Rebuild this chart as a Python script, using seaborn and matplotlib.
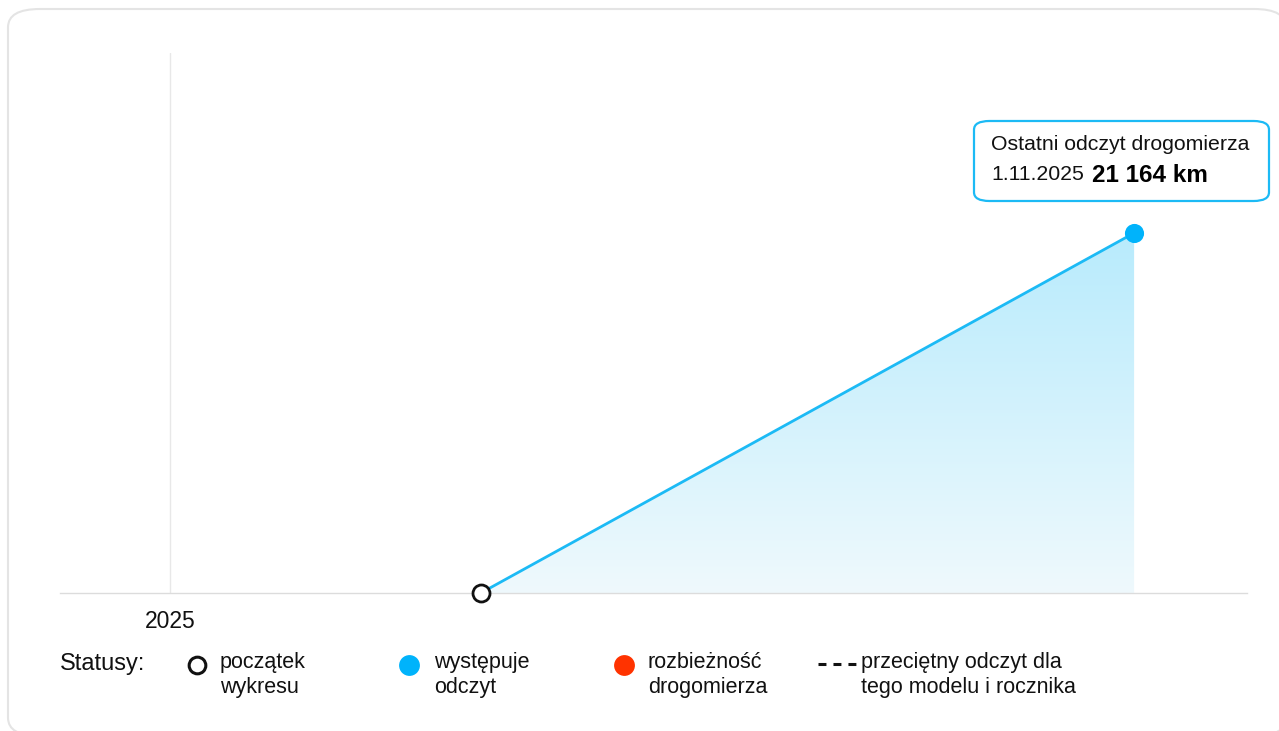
import matplotlib
matplotlib.use("Agg")
import matplotlib.pyplot as plt
import matplotlib.dates as mdates
from matplotlib.patches import FancyBboxPatch
from matplotlib.lines import Line2D
import seaborn as sns
import pandas as pd
import numpy as np

# data
read_dates = ["2025-04-09", "2025-11-01"]
read_km = [0, 21164]
point_status = ["start", "reading"]
tick_years = [2025]
legend_labels = ["początek\nwykresu", "występuje\nodczyt", "rozbieżność\ndrogomierza",
                 "przeciętny odczyt dla\ntego modelu i rocznika"]

BLUE = "#1cbaf5"
DOT = "#00b3fb"
RED = "#ff3300"

sns.set_theme(style="white")
plt.rcParams["font.family"] = ["Liberation Sans", "DejaVu Sans"]

df = pd.DataFrame({"date": pd.to_datetime(read_dates), "km": read_km, "status": point_status})

W, H = 1279, 731
fig = plt.figure(figsize=(W / 100, H / 100), dpi=100)

def fx(px):
    return px / W

def fy(py):
    return 1 - py / H

# card
card = FancyBboxPatch((fx(8), fy(736)), fx(1286) - fx(8), fy(9) - fy(736),
                      boxstyle="round,pad=0,rounding_size=0.025", transform=fig.transFigure,
                      facecolor="white", edgecolor="#e4e4e4", linewidth=1.5, zorder=-5)
fig.patches.append(card)

ax = fig.add_axes([fx(60), fy(593), fx(1247) - fx(60), fy(53) - fy(593)])
ax.set_facecolor("none")

# gradient area under the line
xnum = mdates.date2num(df["date"])
poly = ax.fill_between(xnum, 0, df["km"], color="none", linewidth=0)
grad = np.linspace(0, 1, 256).reshape(-1, 1)
cmap = matplotlib.colors.LinearSegmentedColormap.from_list("g", ["#eff9fd", "#b8ebfc"])
im = ax.imshow(grad, cmap=cmap, aspect="auto", origin="lower",
               extent=[xnum[0], xnum[-1], 0, max(read_km)], zorder=1)
im.set_clip_path(poly.get_paths()[0], transform=ax.transData)

sns.lineplot(data=df, x="date", y="km", color=BLUE, linewidth=2, ax=ax, zorder=3)
start = df[df["status"] == "start"]
reads = df[df["status"] == "reading"]
sns.scatterplot(data=start, x="date", y="km", s=150, facecolor="white",
                edgecolor="#111111", linewidth=2, ax=ax, zorder=4, clip_on=False)
sns.scatterplot(data=reads, x="date", y="km", s=190, color=DOT, linewidth=0, ax=ax, zorder=4)

x0 = pd.Timestamp("2025-01-01")
ax.set_xlim(x0 - pd.Timedelta(days=34.7), x0 + pd.Timedelta(days=339.6))
ax.set_ylim(0, max(read_km) * 1.5)
ax.set_xticks([pd.Timestamp(f"{y}-01-01") for y in tick_years])
ax.set_xticklabels([str(y) for y in tick_years], fontsize=16.5, color="#111111")
ax.set_yticks([])
ax.tick_params(axis="x", length=0, pad=12)
ax.set_xlabel("")
ax.set_ylabel("")
for s in ["top", "right", "left"]:
    ax.spines[s].set_visible(False)
ax.spines["bottom"].set_color("#dcdcdc")
ax.spines["bottom"].set_linewidth(1)
ax.xaxis.grid(True, color="#e8e8e8", linewidth=1)
ax.yaxis.grid(False)

# tooltip
tip = FancyBboxPatch((fx(974), fy(201)), fx(1269) - fx(974), fy(121) - fy(201),
                     boxstyle="round,pad=0,rounding_size=0.012", transform=fig.transFigure,
                     facecolor="white", edgecolor=BLUE, linewidth=1.6, zorder=5)
fig.patches.append(tip)
fig.text(fx(991), fy(144), "Ostatni odczyt drogomierza", fontsize=15.3, va="center",
         color="#111111", zorder=6)
fig.text(fx(991), fy(175), "1.11.2025", fontsize=15.3, va="center", color="#111111", zorder=6)
fig.text(fx(1092), fy(175), "21 164 km", fontsize=17.5, fontweight="bold", va="center",
         color="#000000", zorder=6)

# legend row
fig.text(fx(60), fy(664), "Statusy:", fontsize=17, va="center", color="#111111")
fig.lines.append(Line2D([fx(197)], [fy(665)], marker="o", markersize=12, markerfacecolor="white",
                        markeredgecolor="#111111", markeredgewidth=2.2, transform=fig.transFigure))
fig.lines.append(Line2D([fx(409)], [fy(665)], marker="o", markersize=15, markerfacecolor=DOT,
                        markeredgewidth=0, transform=fig.transFigure))
fig.lines.append(Line2D([fx(624)], [fy(665)], marker="o", markersize=15, markerfacecolor=RED,
                        markeredgewidth=0, transform=fig.transFigure))
fig.lines.append(Line2D([fx(818), fx(856)], [fy(664), fy(664)], color="#111111", linewidth=2.2,
                        linestyle=(0, (2.6, 2.3)), transform=fig.transFigure))
for xp, lab in zip([220, 434, 648, 861], legend_labels):
    fig.text(fx(xp), fy(652), lab, fontsize=15.5, va="top", color="#111111", linespacing=1.22)

fig.savefig("out.png", dpi=100)
